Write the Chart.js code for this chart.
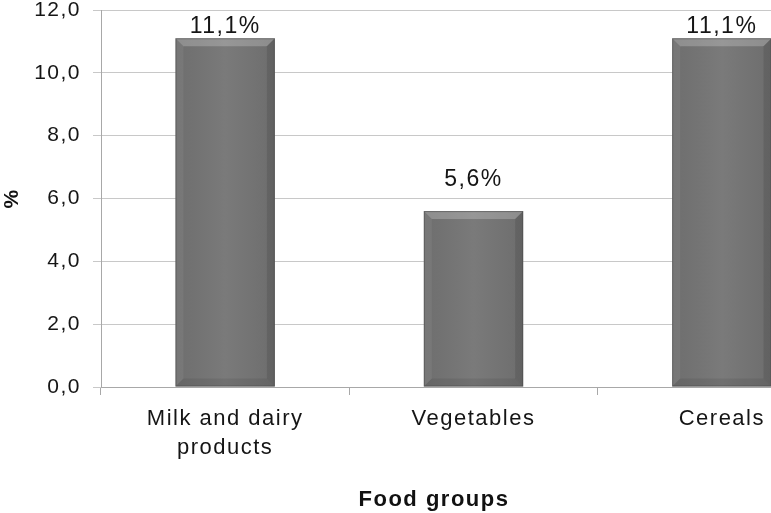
<!DOCTYPE html>
<html lang="en">
<head>
    <meta charset="UTF-8">
    <title>Food groups</title>
    <script src="https://cdn.jsdelivr.net/npm/chart.js"></script>
</head>
<body style="margin: 0; background: white; overflow: hidden;">
    <div style="position: relative; width: 846px; height: 513px;">
        <canvas id="chart"></canvas>
    </div>

    <script>
        // Données
        const categories = [['Milk and dairy', 'products'], 'Vegetables', 'Cereals'];
        const valeurs = [11.1, 5.6, 11.1];
        const etiquettes = ['11,1%', '5,6%', '11,1%'];
        const yMin = 0;
        const yMax = 12;
        const yPas = 2;

        const police = "'Liberation Sans', Arial, sans-serif";

        // Espacement des lettres (texte un peu étiré dans l'original)
        const espacementPlugin = {
            id: 'espacement',
            beforeDraw(chart) {
                chart.ctx.letterSpacing = '1.5px';
            }
        };

        // Étiquettes au-dessus des barres (repoussées sous le haut du graphique si besoin)
        const etiquettesPlugin = {
            id: 'etiquettes',
            afterDatasetsDraw(chart) {
                const ctx = chart.ctx;
                const meta = chart.getDatasetMeta(0);
                ctx.save();
                ctx.font = '23px ' + police;
                ctx.fillStyle = '#151515';
                ctx.textAlign = 'center';
                ctx.textBaseline = 'alphabetic';
                meta.data.forEach((bar, i) => {
                    const y = Math.max(bar.y - 25, chart.chartArea.top + 23);
                    ctx.fillText(etiquettes[i], bar.x, y);
                });
                ctx.restore();
            }
        };

        // Effet biseauté des barres
        const biseauPlugin = {
            id: 'biseau',
            afterDatasetDraw(chart) {
                const ctx = chart.ctx;
                const meta = chart.getDatasetMeta(0);
                ctx.save();
                meta.data.forEach(bar => {
                    const g = bar.x - bar.width / 2;
                    const d = bar.x + bar.width / 2;
                    const h = bar.y;
                    const b = bar.base;
                    const e = 8;
                    // léger dégradé horizontal
                    const grad = ctx.createLinearGradient(g, 0, d, 0);
                    grad.addColorStop(0, 'rgba(0,0,0,0.04)');
                    grad.addColorStop(0.5, 'rgba(255,255,255,0.05)');
                    grad.addColorStop(1, 'rgba(0,0,0,0.05)');
                    ctx.fillStyle = grad;
                    ctx.fillRect(g, h, bar.width, b - h);
                    // haut
                    ctx.fillStyle = 'rgba(255,255,255,0.22)';
                    ctx.beginPath();
                    ctx.moveTo(g, h); ctx.lineTo(d, h); ctx.lineTo(d - e, h + e); ctx.lineTo(g + e, h + e);
                    ctx.closePath(); ctx.fill();
                    // gauche
                    ctx.fillStyle = 'rgba(255,255,255,0.06)';
                    ctx.beginPath();
                    ctx.moveTo(g, h); ctx.lineTo(g + e, h + e); ctx.lineTo(g + e, b - e); ctx.lineTo(g, b);
                    ctx.closePath(); ctx.fill();
                    // droite
                    ctx.fillStyle = 'rgba(0,0,0,0.10)';
                    ctx.beginPath();
                    ctx.moveTo(d, h); ctx.lineTo(d - e, h + e); ctx.lineTo(d - e, b - e); ctx.lineTo(d, b);
                    ctx.closePath(); ctx.fill();
                    // bas
                    ctx.fillStyle = 'rgba(0,0,0,0.08)';
                    ctx.beginPath();
                    ctx.moveTo(g, b); ctx.lineTo(g + e, b - e); ctx.lineTo(d - e, b - e); ctx.lineTo(d, b);
                    ctx.closePath(); ctx.fill();
                    // contour
                    ctx.strokeStyle = 'rgba(70,70,70,0.5)';
                    ctx.lineWidth = 1;
                    ctx.strokeRect(g + 0.5, h + 0.5, bar.width - 1, b - h - 1);
                });
                ctx.restore();
            }
        };

        // Titre de l'axe horizontal
        const titreXPlugin = {
            id: 'titreX',
            afterDraw(chart) {
                const ctx = chart.ctx;
                ctx.save();
                ctx.font = 'bold 22px ' + police;
                ctx.fillStyle = '#111';
                ctx.textAlign = 'center';
                ctx.textBaseline = 'alphabetic';
                ctx.fillText('Food groups', 434, 506);
                ctx.restore();
            }
        };

        new Chart(document.getElementById('chart'), {
            type: 'bar',
            data: {
                labels: categories,
                datasets: [{
                    data: valeurs,
                    backgroundColor: '#737373',
                    borderWidth: 0,
                    barPercentage: 0.4,
                    categoryPercentage: 1.0
                }]
            },
            options: {
                responsive: true,
                maintainAspectRatio: false,
                animation: false,
                layout: { padding: { top: 10, right: 0, left: 0, bottom: 0 } },
                plugins: {
                    legend: { display: false },
                    tooltip: { enabled: false }
                },
                scales: {
                    x: {
                        offset: true,
                        afterFit(scale) { scale.height = 126; },
                        grid: {
                            offset: true,
                            drawOnChartArea: false,
                            color: '#a8a8a8',
                            tickLength: 8
                        },
                        border: { color: '#a8a8a8' },
                        ticks: {
                            color: '#151515',
                            padding: 10,
                            maxRotation: 0,
                            font: { family: police, size: 22, lineHeight: 1.3 }
                        }
                    },
                    y: {
                        min: yMin,
                        max: yMax,
                        afterFit(scale) {
                            scale.width = 101;
                            scale.paddingTop = 0;
                            scale.paddingBottom = 0;
                        },
                        grid: {
                            color: '#c8c8c8',
                            tickLength: 8
                        },
                        border: { color: '#a8a8a8' },
                        ticks: {
                            stepSize: yPas,
                            color: '#151515',
                            padding: 12,
                            font: { family: police, size: 21 },
                            callback: v => v.toFixed(1).replace('.', ',')
                        },
                        title: {
                            display: true,
                            text: '%',
                            color: '#111',
                            padding: 0,
                            font: { family: police, size: 21, weight: 'bold' }
                        }
                    }
                }
            },
            plugins: [espacementPlugin, biseauPlugin, etiquettesPlugin, titreXPlugin]
        });
    </script>
</body>
</html>
